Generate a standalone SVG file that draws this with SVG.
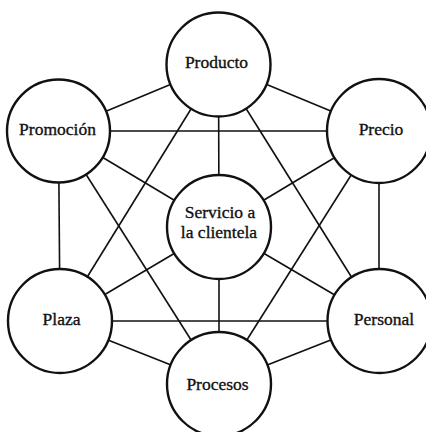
<svg xmlns="http://www.w3.org/2000/svg" width="426" height="432" viewBox="0 0 426 432">
<style>
.c{fill:#fff;stroke:#111;stroke-width:2.4}
.l{stroke:#111;stroke-width:1.6;fill:none}
.t{font-family:"Liberation Serif","DejaVu Serif",serif;font-size:17.5px;fill:#111;stroke:#111;stroke-width:0.35;text-anchor:middle}
</style>
<rect width="426" height="432" fill="#fff"/>
<g id="connectors" class="l">
<line x1="218.5" y1="64.5" x2="58.5" y2="131"/>
<line x1="218.5" y1="64.5" x2="379" y2="131"/>
<line x1="218.5" y1="64.5" x2="219" y2="227"/>
<line x1="218.5" y1="64.5" x2="60" y2="321"/>
<line x1="218.5" y1="64.5" x2="379" y2="321"/>
<line x1="58.5" y1="131" x2="379" y2="131"/>
<line x1="58.5" y1="131" x2="60" y2="321"/>
<line x1="58.5" y1="131" x2="219" y2="227"/>
<line x1="58.5" y1="131" x2="219" y2="384"/>
<line x1="379" y1="131" x2="219" y2="227"/>
<line x1="379" y1="131" x2="379" y2="321"/>
<line x1="379" y1="131" x2="219" y2="384"/>
<line x1="60" y1="321" x2="219" y2="227"/>
<line x1="60" y1="321" x2="379" y2="321"/>
<line x1="60" y1="321" x2="219" y2="384"/>
<line x1="379" y1="321" x2="219" y2="227"/>
<line x1="379" y1="321" x2="219" y2="384"/>
<line x1="219" y1="227" x2="219" y2="384"/>
</g>
<g id="producto"><circle class="c" cx="218.5" cy="64.5" r="52"/><text class="t" x="216.5" y="68">Producto</text></g>
<g id="promocion"><circle class="c" cx="58.5" cy="131" r="51.5"/><text class="t" x="57.5" y="135">Promoción</text></g>
<g id="precio"><circle class="c" cx="379" cy="131" r="52"/><text class="t" x="381" y="135">Precio</text></g>
<g id="servicio"><circle class="c" cx="219" cy="227" r="52"/><text class="t" x="220" y="218">Servicio a</text><text class="t" x="219" y="237.5">la clientela</text></g>
<g id="plaza"><circle class="c" cx="60" cy="321" r="52"/><text class="t" x="61.5" y="325">Plaza</text></g>
<g id="personal"><circle class="c" cx="379.5" cy="321" r="52"/><text class="t" x="384" y="325">Personal</text></g>
<g id="procesos"><circle class="c" cx="219" cy="384" r="52"/><text class="t" x="217.5" y="390">Procesos</text></g>
</svg>
